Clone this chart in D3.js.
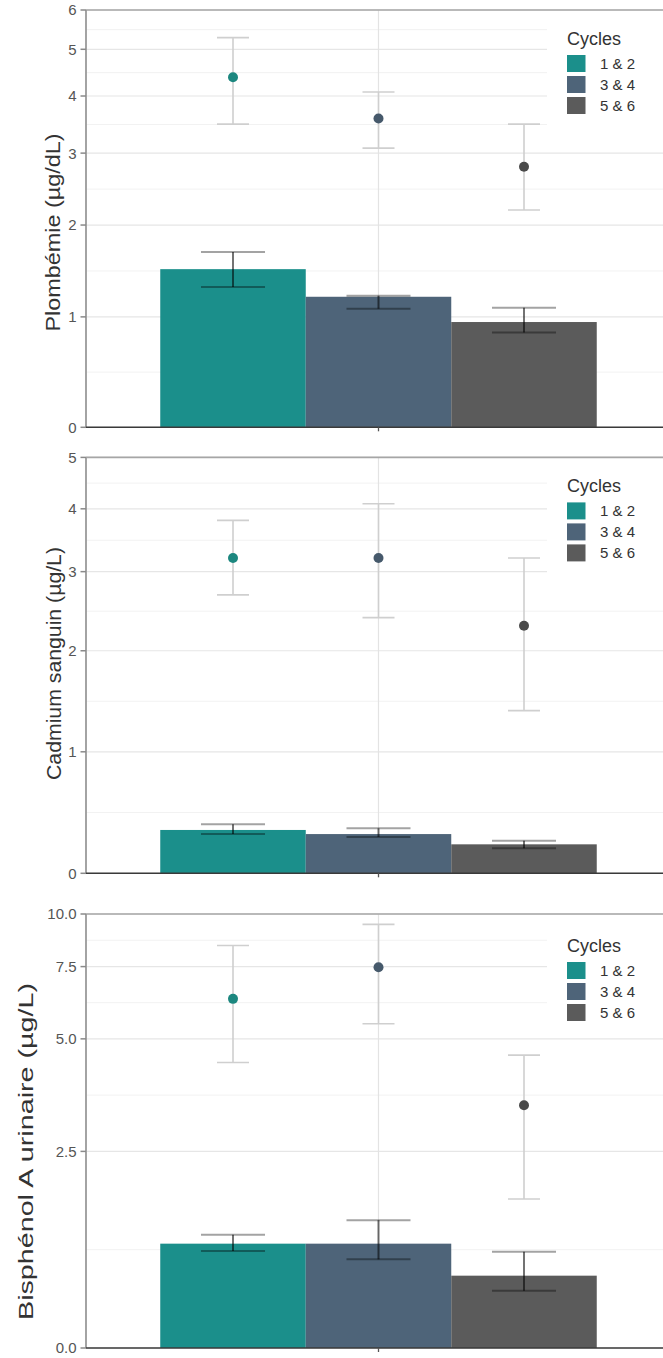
<!DOCTYPE html>
<html>
<head>
<meta charset="utf-8">
<script src="https://cdn.jsdelivr.net/npm/d3@7"></script>
<style>
  html, body { margin: 0; padding: 0; background: #fff; }
  svg { display: block; font-family: "Liberation Sans", Arial, sans-serif; }
</style>
</head>
<body>
<svg id="chart" width="663" height="1358"></svg>
<script>
// ---------------- DATA ----------------
const cycles = ["1 & 2", "3 & 4", "5 & 6"];
const legendTitle = "Cycles";

// Panel 1 : Plombémie
const pbTitle = "Plombémie (µg/dL)";
const pbTicks = [0, 1, 2, 3, 4, 5, 6];
const pbTickLabels = ["0", "1", "2", "3", "4", "5", "6"];
const pbBar = [1.49, 1.20, 0.95];
const pbBarLow = [1.30, 1.08, 0.85];
const pbBarHigh = [1.68, 1.21, 1.09];
const pbPoint = [4.38, 3.58, 2.79];
const pbPointLow = [3.48, 3.08, 2.19];
const pbPointHigh = [5.28, 4.08, 3.48];

// Panel 2 : Cadmium sanguin
const cdTitle = "Cadmium sanguin (µg/L)";
const cdTicks = [0, 1, 2, 3, 4, 5];
const cdTickLabels = ["0", "1", "2", "3", "4", "5"];
const cdBar = [0.345, 0.312, 0.230];
const cdBarLow = [0.312, 0.289, 0.198];
const cdBarHigh = [0.390, 0.358, 0.259];
const cdPoint = [3.20, 3.20, 2.29];
const cdPointLow = [2.68, 2.39, 1.38];
const cdPointHigh = [3.80, 4.09, 3.20];

// Panel 3 : Bisphénol A urinaire
const bpaTitle = "Bisphénol A urinaire (µg/L)";
const bpaTicks = [0, 2.5, 5, 7.5, 10];
const bpaTickLabels = ["0.0", "2.5", "5.0", "7.5", "10.0"];
const bpaBar = [1.17, 1.17, 0.79];
const bpaBarLow = [1.08, 0.98, 0.62];
const bpaBarHigh = [1.28, 1.47, 1.07];
const bpaPoint = [6.27, 7.47, 3.37];
const bpaPointLow = [4.36, 5.45, 1.76];
const bpaPointHigh = [8.42, 9.45, 4.55];

// ---------------- STYLE / LAYOUT ----------------
const barColors = ["#1b8f8b", "#4e6479", "#5b5b5b"];
const pointColors = ["#1c877f", "#46596b", "#4a4a4a"];

const panels = [
  { title: pbTitle, ticks: pbTicks, labels: pbTickLabels, bar: pbBar, barLow: pbBarLow, barHigh: pbBarHigh,
    pt: pbPoint, ptLow: pbPointLow, ptHigh: pbPointHigh,
    top: 10, bottom: 427.3, titleX: 53, titleY: 232.5, titleLen: 198, legDy: 0 },
  { title: cdTitle, ticks: cdTicks, labels: cdTickLabels, bar: cdBar, barLow: cdBarLow, barHigh: cdBarHigh,
    pt: cdPoint, ptLow: cdPointLow, ptHigh: cdPointHigh,
    top: 457.4, bottom: 873.3, titleX: 54, titleY: 663.5, titleLen: 233, legDy: 0 },
  { title: bpaTitle, ticks: bpaTicks, labels: bpaTickLabels, bar: bpaBar, barLow: bpaBarLow, barHigh: bpaBarHigh,
    pt: bpaPoint, ptLow: bpaPointLow, ptHigh: bpaPointHigh,
    top: 914, bottom: 1348, titleX: 26, titleY: 1151.5, titleLen: 337, legDy: 3 }
];

const panelLeft = 87.5, panelRight = 669.5, axisX = 86;

const svg = d3.select("#chart");

// pseudo-log transform (sigma = 1)
const tr = v => Math.asinh(v / 2);

// x scales (single group, dodged cycles)
const x0 = d3.scaleBand().domain(["all"]).range([panelLeft, panelRight]).paddingInner(0.1).paddingOuter(0.15);
const x1 = d3.scaleBand().domain(cycles).range([0, x0.bandwidth()]).padding(0);
const xc = c => x0("all") + x1(c) + x1.bandwidth() / 2;
const xCenter = x0("all") + x0.bandwidth() / 2;

panels.forEach(p => {
  const maxV = p.ticks[p.ticks.length - 1];
  const lin = d3.scaleLinear().domain([0, tr(maxV)]).range([p.bottom, p.top]);
  const y = v => lin(tr(v));
  const g = svg.append("g");

  // minor gridlines (midpoints in transformed space)
  const minors = d3.pairs(p.ticks).map(([a, b]) => (y(a) + y(b)) / 2);
  g.selectAll(".minor").data(minors).enter().append("line")
    .attr("x1", axisX).attr("x2", 663).attr("y1", d => d).attr("y2", d => d)
    .attr("stroke", "#f2f2f2").attr("stroke-width", 1);
  // major gridlines
  g.selectAll(".major").data(p.ticks).enter().append("line")
    .attr("x1", axisX).attr("x2", 663).attr("y1", d => y(d)).attr("y2", d => y(d))
    .attr("stroke", "#e6e6e6").attr("stroke-width", 1.2);
  // vertical gridline
  g.append("line").attr("x1", xCenter).attr("x2", xCenter).attr("y1", p.top).attr("y2", p.bottom)
    .attr("stroke", "#e3e3e3").attr("stroke-width", 1.2);

  // bars
  g.selectAll(".bar").data(cycles).enter().append("rect")
    .attr("x", c => x0("all") + x1(c))
    .attr("width", x1.bandwidth())
    .attr("y", (c, i) => y(p.bar[i]))
    .attr("height", (c, i) => y(0) - y(p.bar[i]))
    .attr("fill", (c, i) => barColors[i]);

  // bar error bars (semi-transparent black)
  const capW = x1.bandwidth() * 0.44;
  cycles.forEach((c, i) => {
    const cx = xc(c);
    g.append("line").attr("x1", cx).attr("x2", cx).attr("y1", y(p.barHigh[i])).attr("y2", y(p.barLow[i]))
      .attr("stroke", "#000").attr("stroke-opacity", 0.55).attr("stroke-width", 2);
    [p.barHigh[i], p.barLow[i]].forEach(v => {
      g.append("line").attr("x1", cx - capW / 2).attr("x2", cx + capW / 2).attr("y1", y(v)).attr("y2", y(v))
        .attr("stroke", "#000").attr("stroke-opacity", 0.36).attr("stroke-width", 2);
    });
  });

  // point error bars (light grey)
  const pCapW = x1.bandwidth() * 0.22;
  cycles.forEach((c, i) => {
    const cx = xc(c);
    g.append("line").attr("x1", cx).attr("x2", cx).attr("y1", y(p.ptHigh[i])).attr("y2", y(p.ptLow[i]))
      .attr("stroke", "#cfcfcf").attr("stroke-width", 1.6);
    [p.ptHigh[i], p.ptLow[i]].forEach(v => {
      g.append("line").attr("x1", cx - pCapW / 2).attr("x2", cx + pCapW / 2).attr("y1", y(v)).attr("y2", y(v))
        .attr("stroke", "#cfcfcf").attr("stroke-width", 1.6);
    });
  });

  // points
  g.selectAll(".pt").data(cycles).enter().append("circle")
    .attr("cx", c => xc(c)).attr("cy", (c, i) => y(p.pt[i])).attr("r", 5)
    .attr("fill", (c, i) => pointColors[i]);

  // panel top border
  g.append("line").attr("x1", axisX).attr("x2", 663).attr("y1", p.top).attr("y2", p.top)
    .attr("stroke", "#a6a6a6").attr("stroke-width", 1.6);
  // left axis line
  g.append("line").attr("x1", axisX).attr("x2", axisX).attr("y1", p.top).attr("y2", p.bottom)
    .attr("stroke", "#9a9a9a").attr("stroke-width", 1.8);
  // bottom line
  g.append("line").attr("x1", axisX).attr("x2", 663).attr("y1", p.bottom).attr("y2", p.bottom)
    .attr("stroke", "#3a3a3a").attr("stroke-width", 1.6);
  // x tick
  g.append("line").attr("x1", xCenter).attr("x2", xCenter).attr("y1", p.bottom).attr("y2", p.bottom + 4)
    .attr("stroke", "#555").attr("stroke-width", 1.3);

  // y ticks + labels
  p.ticks.forEach((t, i) => {
    g.append("line").attr("x1", 80.5).attr("x2", axisX).attr("y1", y(t)).attr("y2", y(t))
      .attr("stroke", "#8a8a8a").attr("stroke-width", 1.5);
    g.append("text").attr("x", 76.5).attr("y", y(t)).attr("dy", "0.36em")
      .attr("text-anchor", "end").attr("font-size", 15).attr("fill", "#555")
      .text(p.labels[i]);
  });

  // y title
  g.append("text")
    .attr("transform", `translate(${p.titleX},${p.titleY}) rotate(-90)`)
    .attr("text-anchor", "middle").attr("dy", "0.35em")
    .attr("font-size", 21).attr("fill", "#333")
    .attr("textLength", p.titleLen).attr("lengthAdjust", "spacingAndGlyphs")
    .text(p.title);

  // legend
  const ly = p.top + p.legDy;
  const lg = g.append("g");
  lg.append("rect").attr("x", 547).attr("y", ly + 10).attr("width", 120).attr("height", 108).attr("fill", "#fff");
  lg.append("text").attr("x", 567).attr("y", ly + 34.5).attr("font-size", 18).attr("fill", "#333").text(legendTitle);
  cycles.forEach((c, i) => {
    const ky = ly + 45 + i * 21;
    lg.append("rect").attr("x", 567).attr("y", ky).attr("width", 18.5).attr("height", 17)
      .attr("fill", barColors[i]);
    lg.append("text").attr("x", 600).attr("y", ky + 8.5).attr("dy", "0.36em")
      .attr("font-size", 15).attr("fill", "#333").text(c);
  });
});
</script>
</body>
</html>
